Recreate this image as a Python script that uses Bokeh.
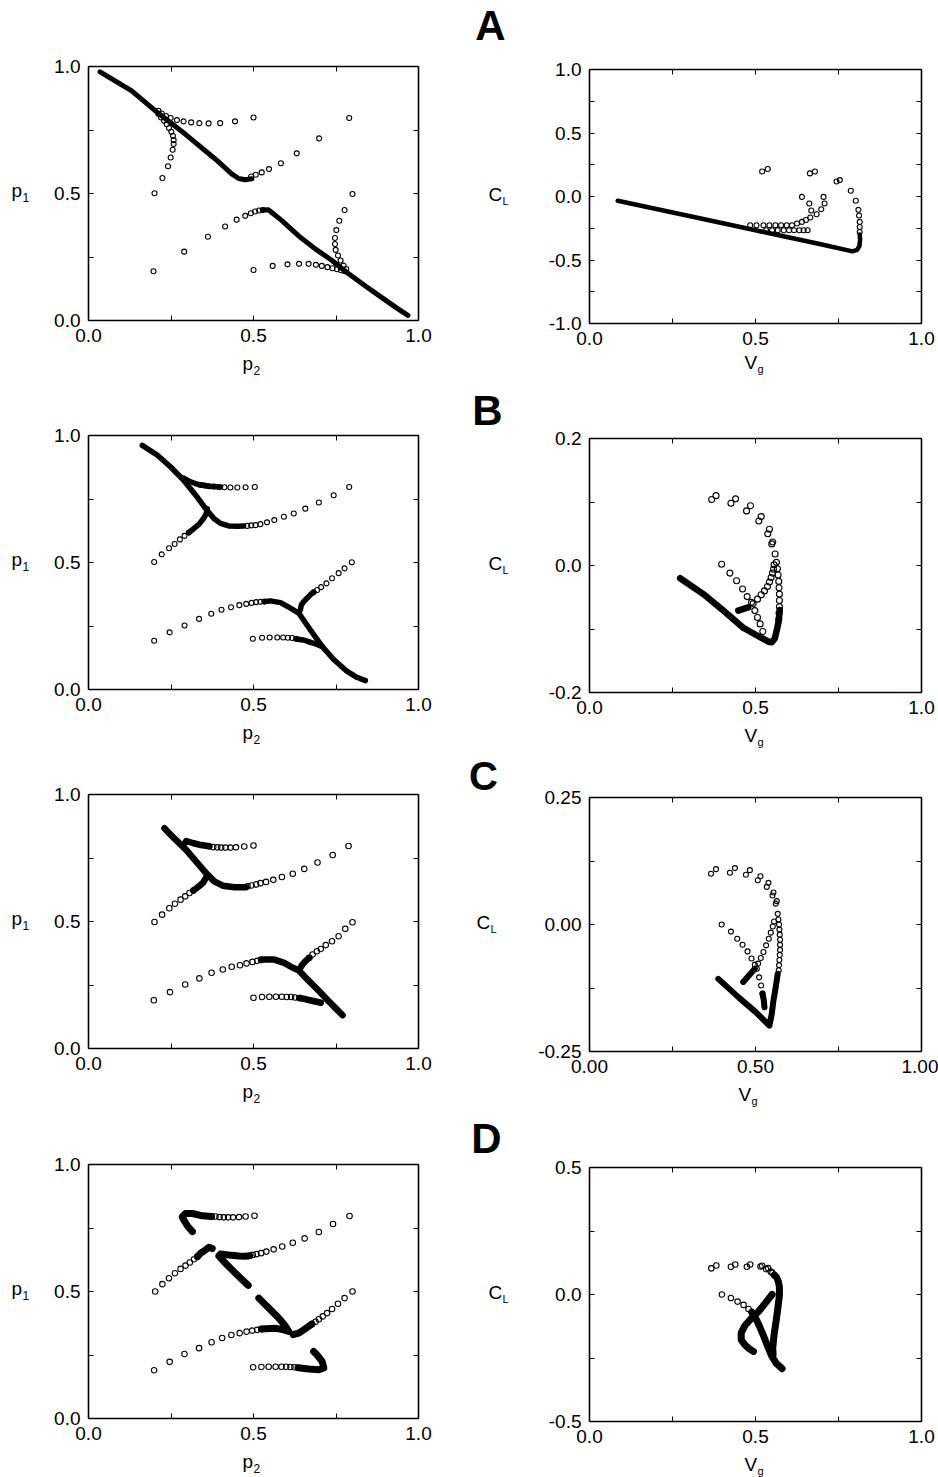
from bokeh.plotting import figure
from bokeh.layouts import column, row
from bokeh.models import Range1d, LinearAxis, FixedTicker, NumeralTickFormatter, Label
from bokeh.embed import file_html
from bokeh.resources import INLINE

FONT = "Liberation Sans"

# ---------------- Panel A, left (p2 on x, p1 on y) ----------------
A_L_open_p2 = [0.5, 0.444, 0.399, 0.364, 0.336, 0.311, 0.288, 0.268, 0.249, 0.235, 0.222, 0.212,
               0.2, 0.224, 0.241, 0.249, 0.255, 0.258, 0.258, 0.256, 0.251, 0.244, 0.237, 0.229, 0.22, 0.212,
               0.79, 0.699, 0.631, 0.583, 0.547, 0.525, 0.507, 0.493,
               0.197, 0.29, 0.362, 0.414, 0.449, 0.475, 0.492, 0.505, 0.517, 0.528,
               0.5, 0.558, 0.603, 0.638, 0.667, 0.689, 0.707, 0.724, 0.739, 0.753, 0.765, 0.776,
               0.8, 0.776, 0.76, 0.751, 0.747, 0.747, 0.749, 0.756, 0.764, 0.773, 0.781]
A_L_open_p1 = [0.799, 0.784, 0.777, 0.776, 0.777, 0.78, 0.784, 0.789, 0.797, 0.805, 0.815, 0.826,
               0.501, 0.561, 0.607, 0.642, 0.672, 0.695, 0.71, 0.727, 0.743, 0.758, 0.773, 0.786, 0.799, 0.813,
               0.797, 0.717, 0.658, 0.619, 0.596, 0.583, 0.574, 0.567,
               0.194, 0.271, 0.33, 0.37, 0.397, 0.412, 0.422, 0.429, 0.433, 0.435,
               0.199, 0.215, 0.221, 0.223, 0.223, 0.219, 0.215, 0.21, 0.206, 0.202, 0.198, 0.194,
               0.498, 0.435, 0.393, 0.356, 0.325, 0.301, 0.278, 0.256, 0.236, 0.216, 0.203]
A_L_upper_p2 = [0.035, 0.131, 0.202, 0.293, 0.384, 0.434, 0.455, 0.475, 0.495]
A_L_upper_p1 = [0.979, 0.904, 0.826, 0.734, 0.636, 0.577, 0.559, 0.554, 0.558]
A_L_lower_p2 = [0.528, 0.545, 0.586, 0.636, 0.687, 0.737, 0.778, 0.838, 0.889, 0.939, 0.968]
A_L_lower_p1 = [0.435, 0.436, 0.393, 0.334, 0.282, 0.237, 0.194, 0.137, 0.09, 0.045, 0.02]

# ---------------- Panel A, right (Vg on x, CL on y) ----------------
A_R_open_vg = [0.52, 0.537, 0.664, 0.679, 0.744, 0.754, 0.787, 0.802, 0.81, 0.812, 0.814, 0.814, 0.814,
               0.64, 0.705, 0.662, 0.708, 0.668, 0.698, 0.684, 0.665, 0.652, 0.64, 0.625,
               0.484, 0.503, 0.524, 0.542, 0.56, 0.577, 0.594, 0.61,
               0.532, 0.55, 0.567, 0.585, 0.601, 0.616, 0.632, 0.645, 0.657]
A_R_open_cl = [0.197, 0.216, 0.182, 0.197, 0.118, 0.129, 0.045, -0.034, -0.105, -0.15, -0.2, -0.24, -0.28,
               -0.003, -0.003, -0.055, -0.055, -0.11, -0.10, -0.14, -0.165, -0.185, -0.2, -0.213,
               -0.226, -0.226, -0.226, -0.226, -0.226, -0.226, -0.226, -0.226,
               -0.266, -0.266, -0.266, -0.266, -0.266, -0.266, -0.266, -0.266, -0.266]
A_R_main_vg = [0.085, 0.3, 0.5, 0.7, 0.792, 0.806, 0.813, 0.815, 0.814]
A_R_main_cl = [-0.034, -0.154, -0.266, -0.378, -0.432, -0.42, -0.39, -0.34, -0.30]

# ---------------- Panel B, left ----------------
B_L_open_p2 = [0.504, 0.476, 0.451, 0.43, 0.412, 0.395, 0.38, 0.365, 0.352, 0.34,
               0.199, 0.222, 0.244, 0.261, 0.277, 0.291, 0.304,
               0.79, 0.743, 0.698, 0.657, 0.622, 0.592, 0.563, 0.541, 0.521, 0.506, 0.493, 0.481,
               0.199, 0.246, 0.291, 0.335, 0.372, 0.403, 0.432, 0.457, 0.478, 0.494, 0.508, 0.521, 0.533,
               0.798, 0.776, 0.758, 0.738, 0.721, 0.705, 0.693, 0.682,
               0.498, 0.526, 0.549, 0.572, 0.59, 0.604, 0.617, 0.629]
B_L_open_p1 = [0.797, 0.796, 0.795, 0.795, 0.796, 0.797, 0.799, 0.8, 0.803, 0.805,
               0.502, 0.532, 0.556, 0.573, 0.591, 0.605, 0.618,
               0.797, 0.765, 0.736, 0.712, 0.693, 0.68, 0.667, 0.658, 0.651, 0.647, 0.646, 0.644,
               0.192, 0.225, 0.252, 0.278, 0.298, 0.314, 0.324, 0.332, 0.337, 0.341, 0.344, 0.345, 0.346,
               0.501, 0.477, 0.458, 0.438, 0.418, 0.403, 0.392, 0.383,
               0.2, 0.204, 0.205, 0.205, 0.205, 0.204, 0.203, 0.2]
B_L_upper_p2 = [0.163, 0.209, 0.249, 0.287, 0.325, 0.355, 0.38, 0.40, 0.425, 0.451, 0.47]
B_L_upper_p1 = [0.961, 0.922, 0.876, 0.826, 0.765, 0.712, 0.673, 0.654, 0.644, 0.643, 0.644]
B_L_hook1_p2 = [0.40, 0.365, 0.33, 0.305, 0.287]
B_L_hook1_p1 = [0.797, 0.80, 0.808, 0.82, 0.833]
B_L_hook2_p2 = [0.304, 0.317, 0.328, 0.337, 0.345, 0.352, 0.357, 0.36]
B_L_hook2_p1 = [0.618, 0.631, 0.643, 0.654, 0.667, 0.68, 0.695, 0.712]
B_L_lower_p2 = [0.533, 0.551, 0.582, 0.612, 0.637, 0.672, 0.708, 0.743, 0.783, 0.813, 0.839]
B_L_lower_p1 = [0.346, 0.349, 0.342, 0.32, 0.301, 0.235, 0.17, 0.118, 0.072, 0.048, 0.035]
B_L_hook3_p2 = [0.682, 0.672, 0.662, 0.652, 0.645, 0.642, 0.637]
B_L_hook3_p1 = [0.383, 0.373, 0.359, 0.346, 0.333, 0.314, 0.301]
B_L_hook4_p2 = [0.629, 0.64, 0.65, 0.66, 0.67, 0.68, 0.69, 0.70, 0.708]
B_L_hook4_p1 = [0.2, 0.197, 0.195, 0.191, 0.187, 0.183, 0.178, 0.173, 0.17]

# ---------------- Panel B, right ----------------
B_R_open_vg = [0.368, 0.381, 0.426, 0.44, 0.473, 0.485, 0.51, 0.517, 0.537, 0.542, 0.549, 0.552,
               0.559, 0.563, 0.566, 0.568, 0.57, 0.571, 0.572, 0.572, 0.572, 0.571, 0.57,
               0.398, 0.423, 0.443, 0.461, 0.475, 0.488, 0.498, 0.506, 0.514, 0.522,
               0.493, 0.506, 0.517, 0.527, 0.536, 0.542, 0.547, 0.551, 0.554, 0.556]
B_R_open_cl = [0.104, 0.11, 0.098, 0.105, 0.086, 0.094, 0.07, 0.077, 0.05, 0.057, 0.034, 0.037,
               0.018, 0.005, -0.005, -0.015, -0.025, -0.035, -0.045, -0.055, -0.065, -0.075, -0.085,
               0.002, -0.012, -0.024, -0.037, -0.049, -0.058, -0.071, -0.082, -0.092, -0.104,
               -0.06, -0.053, -0.046, -0.04, -0.033, -0.026, -0.019, -0.012, -0.006, 0.001]
B_R_main_vg = [0.273, 0.343, 0.403, 0.463, 0.514, 0.539, 0.549, 0.558, 0.565, 0.570, 0.573]
B_R_main_cl = [-0.02, -0.045, -0.071, -0.098, -0.113, -0.12, -0.121, -0.115, -0.1, -0.087, -0.07]
B_R_inner_vg = [0.448, 0.478]
B_R_inner_cl = [-0.071, -0.066]

# ---------------- Panel C, left ----------------
C_L_open_p2 = [0.5, 0.472, 0.447, 0.43, 0.415, 0.402, 0.39, 0.378, 0.366,
               0.2, 0.223, 0.245, 0.262, 0.279, 0.293, 0.306, 0.318,
               0.788, 0.74, 0.694, 0.654, 0.619, 0.586, 0.56, 0.538, 0.521, 0.508, 0.494, 0.482,
               0.198, 0.247, 0.293, 0.336, 0.373, 0.407, 0.434, 0.459, 0.479, 0.497, 0.511, 0.523,
               0.8, 0.778, 0.758, 0.738, 0.719, 0.704, 0.692, 0.679, 0.669,
               0.5, 0.526, 0.548, 0.568, 0.586, 0.601, 0.614, 0.626, 0.639]
C_L_open_p1 = [0.799, 0.795, 0.792, 0.791, 0.791, 0.791, 0.792, 0.793, 0.796,
               0.498, 0.527, 0.552, 0.57, 0.586, 0.599, 0.612, 0.622,
               0.797, 0.762, 0.732, 0.707, 0.688, 0.675, 0.664, 0.656, 0.651, 0.646, 0.642, 0.639,
               0.19, 0.222, 0.252, 0.276, 0.298, 0.311, 0.322, 0.328, 0.335, 0.341, 0.345, 0.348,
               0.497, 0.471, 0.442, 0.422, 0.407, 0.392, 0.383, 0.37, 0.357,
               0.2, 0.203, 0.204, 0.204, 0.204, 0.203, 0.203, 0.201, 0.199]
C_L_upper_p2 = [0.23, 0.26, 0.296, 0.331, 0.361, 0.381, 0.407, 0.442, 0.477]
C_L_upper_p1 = [0.867, 0.827, 0.782, 0.729, 0.684, 0.658, 0.641, 0.635, 0.635]
C_L_hook1_p2 = [0.366, 0.341, 0.316, 0.296, 0.293]
C_L_hook1_p1 = [0.796, 0.801, 0.809, 0.817, 0.81]
C_L_hook2_p2 = [0.318, 0.329, 0.339, 0.348, 0.361]
C_L_hook2_p1 = [0.622, 0.633, 0.643, 0.654, 0.684]
C_L_lower_p2 = [0.523, 0.563, 0.593, 0.619, 0.637, 0.664, 0.694, 0.725, 0.75, 0.77]
C_L_lower_p1 = [0.35, 0.35, 0.337, 0.318, 0.308, 0.271, 0.232, 0.19, 0.157, 0.131]
C_L_hook3_p2 = [0.669, 0.659, 0.648, 0.637]
C_L_hook3_p1 = [0.357, 0.346, 0.33, 0.308]
C_L_hook4_p2 = [0.639, 0.652, 0.664, 0.684, 0.704]
C_L_hook4_p1 = [0.199, 0.196, 0.192, 0.186, 0.18]

# ---------------- Panel C, right ----------------
C_R_open_vg = [0.366, 0.381, 0.423, 0.438, 0.471, 0.483, 0.507, 0.515, 0.534, 0.539, 0.551, 0.554, 0.561, 0.564,
               0.567, 0.569, 0.571, 0.572, 0.573, 0.574, 0.574, 0.574, 0.573, 0.572, 0.571, 0.57,
               0.398, 0.426, 0.445, 0.461, 0.476, 0.488, 0.498, 0.504, 0.511, 0.517, 0.521,
               0.508, 0.516, 0.524, 0.532, 0.54, 0.546, 0.552, 0.556]
C_R_open_cl = [0.1, 0.109, 0.102, 0.111, 0.098, 0.107, 0.087, 0.095, 0.074, 0.082, 0.057, 0.063, 0.041, 0.046,
               0.021, 0.01, 0.0, -0.01, -0.02, -0.03, -0.04, -0.05, -0.06, -0.07, -0.08, -0.09,
               0.0, -0.014, -0.028, -0.04, -0.053, -0.067, -0.079, -0.087, -0.104, -0.12, -0.136,
               -0.077, -0.066, -0.054, -0.041, -0.028, -0.016, -0.004, 0.006]
C_R_main_vg = [0.388, 0.45, 0.5, 0.542, 0.549, 0.554, 0.561, 0.567]
C_R_main_cl = [-0.107, -0.144, -0.172, -0.199, -0.176, -0.15, -0.123, -0.097]
C_R_inner_vg = [0.463, 0.498]
C_R_inner_cl = [-0.113, -0.087]
C_R_tail_vg = [0.521, 0.525, 0.527]
C_R_tail_cl = [-0.136, -0.149, -0.163]

# ---------------- Panel D, left ----------------
D_L_open_p2 = [0.503, 0.476, 0.456, 0.438, 0.423, 0.41, 0.397, 0.385, 0.373,
               0.202, 0.224, 0.244, 0.262, 0.279, 0.294, 0.307, 0.32, 0.33,
               0.791, 0.741, 0.698, 0.655, 0.619, 0.587, 0.561, 0.539, 0.523, 0.509, 0.498, 0.488,
               0.199, 0.246, 0.291, 0.335, 0.373, 0.405, 0.433, 0.458, 0.479, 0.496, 0.511, 0.524,
               0.8, 0.776, 0.756, 0.738, 0.723, 0.71, 0.698, 0.688, 0.677,
               0.499, 0.524, 0.546, 0.567, 0.585, 0.599, 0.612, 0.624, 0.635]
D_L_open_p1 = [0.798, 0.795, 0.793, 0.792, 0.792, 0.792, 0.793, 0.795, 0.795,
               0.5, 0.529, 0.552, 0.572, 0.589, 0.602, 0.614, 0.627, 0.637,
               0.797, 0.766, 0.734, 0.709, 0.692, 0.677, 0.666, 0.657, 0.651, 0.647, 0.644, 0.641,
               0.19, 0.223, 0.254, 0.277, 0.3, 0.317, 0.329, 0.336, 0.342, 0.346, 0.349, 0.352,
               0.5, 0.474, 0.452, 0.431, 0.415, 0.402, 0.391, 0.381, 0.372,
               0.202, 0.203, 0.204, 0.204, 0.204, 0.204, 0.203, 0.202, 0.2]
D_L_seg1_p2 = [0.373, 0.345, 0.315, 0.294, 0.284, 0.289, 0.30, 0.315]
D_L_seg1_p1 = [0.795, 0.798, 0.807, 0.807, 0.794, 0.781, 0.758, 0.736]
D_L_seg2_p2 = [0.33, 0.34, 0.355, 0.365, 0.375]
D_L_seg2_p1 = [0.637, 0.651, 0.664, 0.674, 0.669]
D_L_seg3_p2 = [0.488, 0.476, 0.456, 0.425, 0.40, 0.395, 0.41, 0.435, 0.461, 0.484]
D_L_seg3_p1 = [0.641, 0.639, 0.64, 0.644, 0.648, 0.64, 0.618, 0.585, 0.552, 0.524]
D_L_seg4_p2 = [0.516, 0.546, 0.577, 0.597, 0.607, 0.592, 0.569, 0.536, 0.524]
D_L_seg4_p1 = [0.474, 0.435, 0.395, 0.363, 0.343, 0.349, 0.355, 0.353, 0.352]
D_L_seg5_p2 = [0.677, 0.667, 0.652, 0.637, 0.62]
D_L_seg5_p1 = [0.372, 0.363, 0.349, 0.336, 0.33]
D_L_seg6_p2 = [0.635, 0.667, 0.698, 0.713, 0.708, 0.692, 0.682]
D_L_seg6_p1 = [0.2, 0.195, 0.192, 0.199, 0.225, 0.251, 0.264]

# ---------------- Panel D, right ----------------
D_R_open_vg = [0.367, 0.382, 0.426, 0.439, 0.474, 0.484, 0.515, 0.52, 0.532, 0.538, 0.546, 0.551, 0.557,
               0.399, 0.426, 0.446, 0.464, 0.479, 0.489, 0.55]
D_R_open_cl = [0.103, 0.114, 0.109, 0.118, 0.109, 0.118, 0.11, 0.113, 0.1, 0.104, 0.09, 0.085, 0.076,
               0.0, -0.014, -0.028, -0.041, -0.057, -0.07, 0.0]
D_R_leg_vg = [0.557, 0.564, 0.569, 0.572, 0.572, 0.567, 0.562, 0.556, 0.552, 0.553]
D_R_leg_cl = [0.076, 0.066, 0.05, 0.03, -0.004, -0.057, -0.105, -0.158, -0.21, -0.237]
D_R_diag1_vg = [0.55, 0.53, 0.51, 0.489, 0.469, 0.457, 0.457, 0.467, 0.481, 0.494]
D_R_diag1_cl = [0.0, -0.033, -0.066, -0.092, -0.121, -0.151, -0.178, -0.197, -0.214, -0.224]
D_R_diag2_vg = [0.489, 0.50, 0.512, 0.525, 0.537, 0.548, 0.562, 0.58]
D_R_diag2_cl = [-0.07, -0.092, -0.125, -0.165, -0.205, -0.24, -0.27, -0.292]

# ---------------- axis ticks ----------------
TICKS_01 = [0.0, 0.5, 1.0]
MINOR_01 = [0.25, 0.75]
TICKS_A_CL = [-1.0, -0.5, 0.0, 0.5, 1.0]
MINOR_A_CL = [-0.75, -0.25, 0.25, 0.75]
TICKS_B_CL = [-0.2, 0.0, 0.2]
MINOR_B_CL = [-0.1, 0.1]
TICKS_C_CL = [-0.25, 0.0, 0.25]
MINOR_C_CL = [-0.125, 0.125]
TICKS_D_CL = [-0.5, 0.0, 0.5]
MINOR_D_CL = [-0.25, 0.25]

FH = 254  # plot box height in px


def style_axis(ax, labels):
    ax.major_tick_in = 5
    ax.major_tick_out = 0
    ax.minor_tick_in = 5
    ax.minor_tick_out = 0
    ax.major_tick_line_color = "black"
    ax.minor_tick_line_color = "black"
    ax.axis_line_color = "black"
    ax.axis_line_width = 1.6
    if labels:
        ax.major_label_text_font = FONT
        ax.major_label_text_font_size = "19px"
        ax.major_label_text_color = "black"
        ax.major_label_standoff = 8
    else:
        ax.major_label_text_font_size = "0px"
        ax.major_label_standoff = 0


def make_fig(width, height, box_left, box_w, box_bottom, yr, yt, ym, xfmt, yfmt):
    y0, y1 = yr
    span = y1 - y0
    p = figure(width=width, height=height, min_border=0,
               x_range=Range1d(-box_left / box_w, (width - box_left) / box_w),
               y_range=Range1d(y0 - box_bottom / FH * span, y0 + (height - box_bottom) / FH * span),
               x_axis_type=None, y_axis_type=None, title=None,
               output_backend="svg", toolbar_location=None)
    p.outline_line_color = None
    p.background_fill_color = "white"
    p.border_fill_color = "white"
    bx = LinearAxis(ticker=FixedTicker(ticks=TICKS_01, minor_ticks=MINOR_01),
                    formatter=NumeralTickFormatter(format=xfmt), fixed_location=y0, bounds=(0, 1))
    ly = LinearAxis(ticker=FixedTicker(ticks=yt, minor_ticks=ym),
                    formatter=NumeralTickFormatter(format=yfmt), fixed_location=0, bounds=(y0, y1))
    tx = LinearAxis(ticker=FixedTicker(ticks=TICKS_01, minor_ticks=MINOR_01),
                    major_label_overrides={v: "" for v in TICKS_01}, fixed_location=y1, bounds=(0, 1))
    ry = LinearAxis(ticker=FixedTicker(ticks=yt, minor_ticks=ym),
                    major_label_overrides={v: "" for v in yt}, fixed_location=1, bounds=(y0, y1))
    style_axis(bx, True)
    style_axis(ly, True)
    style_axis(tx, False)
    style_axis(ry, False)
    p.add_layout(bx, "below")
    p.add_layout(ly, "left")
    p.add_layout(tx, "above")
    p.add_layout(ry, "right")
    return p


def lab(p, x, y, text, size=19, style="normal", align="left"):
    # y is the wanted baseline (px up from the figure bottom); the renderer
    # places the glyphs about 0.36 em lower, so compensate.
    p.add_layout(Label(x=x, y=y + round(0.36 * size), x_units="screen", y_units="screen", text=text,
                       text_font=FONT, text_font_size=f"{size}px", text_font_style=style,
                       text_color="black", text_align=align, text_baseline="alphabetic"))


def draw(p, open_x, open_y, paths, csize, lw):
    xs = [pp[0] for pp in paths]
    ys = [pp[1] for pp in paths]
    p.multi_line(xs, ys, line_color="black", line_width=lw, line_cap="round", line_join="round")
    p.scatter(open_x, open_y, marker="circle", size=csize, fill_color=None,
              line_color="black", line_width=1.1)


LW, LBOX, LBW = 458, 88, 330
RW, RBOX, RBW = 480, 131, 332


def left_panel(height, bottom, open_x, open_y, paths, csize, lw):
    p = make_fig(LW, height, LBOX, LBW, bottom, (0, 1), TICKS_01, MINOR_01, "0.0", "0.0")
    draw(p, open_x, open_y, paths, csize, lw)
    lab(p, LBOX - 77, bottom + 123, "p")
    lab(p, LBOX - 66, bottom + 119, "1", size=12)
    lab(p, LBOX + 154, bottom - 50, "p")
    lab(p, LBOX + 165, bottom - 54, "2", size=12)
    return p


def right_panel(height, bottom, yr, yt, ym, xfmt, yfmt, open_x, open_y, paths, csize, lw,
                cl_dx, vg_dx, vg_dy, letter, lx, ly, lsize=42):
    p = make_fig(RW, height, RBOX, RBW, bottom, yr, yt, ym, xfmt, yfmt)
    draw(p, open_x, open_y, paths, csize, lw)
    lab(p, RBOX + cl_dx, bottom + 122, "C")
    lab(p, RBOX + cl_dx + 14, bottom + 119, "L", size=11)
    lab(p, RBOX + vg_dx, bottom + vg_dy, "V")
    lab(p, RBOX + vg_dx + 13, bottom + vg_dy - 3, "g", size=11)
    lab(p, lx, ly, letter, size=lsize, style="bold", align="center")
    return p


aL = left_panel(381, 61, A_L_open_p2, A_L_open_p1,
                [(A_L_upper_p2, A_L_upper_p1), (A_L_lower_p2, A_L_lower_p1)], 5, 5)
aR = right_panel(381, 58, (-1, 1), TICKS_A_CL, MINOR_A_CL, "0.0", "0.0",
                 A_R_open_vg, A_R_open_cl, [(A_R_main_vg, A_R_main_cl)], 5, 4.5,
                 -101, 155, -46, "A", 32, 341)

bL = left_panel(369, 61, B_L_open_p2, B_L_open_p1,
                [(B_L_upper_p2, B_L_upper_p1), (B_L_hook1_p2, B_L_hook1_p1),
                 (B_L_hook2_p2, B_L_hook2_p1), (B_L_lower_p2, B_L_lower_p1),
                 (B_L_hook3_p2, B_L_hook3_p1), (B_L_hook4_p2, B_L_hook4_p1)], 5, 5.5)
bR = right_panel(369, 58, (-0.2, 0.2), TICKS_B_CL, MINOR_B_CL, "0.0", "0.0",
                 B_R_open_vg, B_R_open_cl, [(B_R_main_vg, B_R_main_cl), (B_R_inner_vg, B_R_inner_cl)], 6, 6.5,
                 -101, 155, -50, "B", 29, 325)

cL = left_panel(359, 61, C_L_open_p2, C_L_open_p1,
                [(C_L_upper_p2, C_L_upper_p1), (C_L_hook1_p2, C_L_hook1_p1),
                 (C_L_hook2_p2, C_L_hook2_p1), (C_L_lower_p2, C_L_lower_p1),
                 (C_L_hook3_p2, C_L_hook3_p1), (C_L_hook4_p2, C_L_hook4_p1)], 5.5, 6.5)
cR = right_panel(359, 58, (-0.25, 0.25), TICKS_C_CL, MINOR_C_CL, "0.00", "0.00",
                 C_R_open_vg, C_R_open_cl,
                 [(C_R_main_vg, C_R_main_cl), (C_R_inner_vg, C_R_inner_cl), (C_R_tail_vg, C_R_tail_cl)], 5, 6,
                 -113, 149, -50, "C", 25, 320, lsize=40)

dL = left_panel(368, 59, D_L_open_p2, D_L_open_p1,
                [(D_L_seg1_p2, D_L_seg1_p1), (D_L_seg2_p2, D_L_seg2_p1), (D_L_seg3_p2, D_L_seg3_p1),
                 (D_L_seg4_p2, D_L_seg4_p1), (D_L_seg5_p2, D_L_seg5_p1), (D_L_seg6_p2, D_L_seg6_p1)], 5.5, 7)
dR = right_panel(368, 56, (-0.5, 0.5), TICKS_D_CL, MINOR_D_CL, "0.0", "0.0",
                 D_R_open_vg, D_R_open_cl,
                 [(D_R_leg_vg, D_R_leg_cl), (D_R_diag1_vg, D_R_diag1_cl), (D_R_diag2_vg, D_R_diag2_cl)], 5.5, 7,
                 -101, 155, -50, "D", 28, 324)

layout = column(row(aL, aR), row(bL, bR), row(cL, cR), row(dL, dR))

with open("out.html", "w") as f:
    f.write(file_html(layout, INLINE))
